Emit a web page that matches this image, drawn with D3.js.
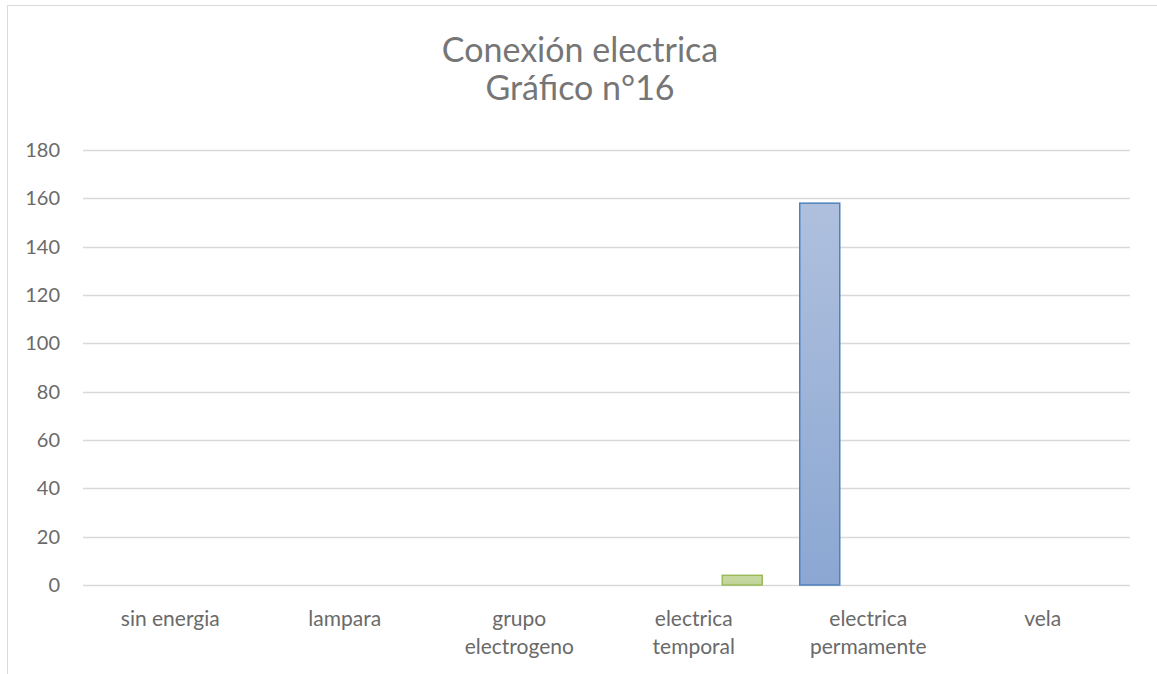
<!DOCTYPE html>
<html>
<head>
<meta charset="utf-8">
<script src="https://cdn.jsdelivr.net/npm/d3@7"></script>
<style>
  body { margin: 0; background: #fff; }
  svg { display: block; font-family: Lato, "Open Sans", sans-serif; }
</style>
</head>
<body>
<svg width="1157" height="674"></svg>
<script>
// data
const titleLines = ["Conexión electrica", "Gráfico n°16"];
const categories = ["sin energia", "lampara", "grupo electrogeno", "electrica temporal", "electrica permamente", "vela"];
const seriesNames = ["serie1", "serie2"];
const serie1 = [0, 0, 0, 0, 158, 0];
const serie2 = [0, 0, 0, 4, 0, 0];
const yTicks = [0, 20, 40, 60, 80, 100, 120, 140, 160, 180];

const svg = d3.select("svg");
const textColor = "#6a6a6a";
const titleColor = "#767676";
const gridColor = "#d9d9d9";

// chart frame (cut off at right and bottom like the screenshot)
svg.append("rect")
    .attr("x", 7.5).attr("y", 5.5)
    .attr("width", 1200).attr("height", 700)
    .attr("fill", "none")
    .attr("stroke", gridColor);

const plot = { left: 83, right: 1130, top: 150, bottom: 585 };

const x0 = d3.scaleBand()
    .domain(categories)
    .range([plot.left, plot.right])
    .padding(0);

const bw = x0.bandwidth();
const x1 = d3.scaleBand()
    .domain(seriesNames)
    .range([bw / 2 - 68.5, bw / 2 + 68.5])
    .paddingInner(1 - 40 / 97);

const y = d3.scaleLinear()
    .domain([0, 180])
    .range([plot.bottom, plot.top]);

// title
svg.append("text")
    .attr("y", 62)
    .attr("text-anchor", "middle")
    .attr("fill", titleColor)
    .style("font-size", "34px")
    .selectAll("tspan")
    .data(titleLines)
    .enter().append("tspan")
    .attr("x", 580)
    .attr("dy", (d, i) => i === 0 ? 0 : 38)
    .text(d => d);

// gridlines
svg.append("g")
    .selectAll("line")
    .data(yTicks)
    .enter().append("line")
    .attr("x1", plot.left).attr("x2", plot.right)
    .attr("y1", d => Math.round(y(d)) + 0.5)
    .attr("y2", d => Math.round(y(d)) + 0.5)
    .attr("stroke", gridColor)
    .attr("stroke-width", 1.3);

// y axis labels
const yAxis = d3.axisLeft(y).tickValues(yTicks).tickSize(0).tickPadding(23);
svg.append("g")
    .attr("transform", `translate(${plot.left},0)`)
    .call(yAxis)
    .call(g => g.select(".domain").remove())
    .selectAll("text")
    .attr("fill", textColor)
    .style("font-size", "20px")
    .style("font-family", "Lato, sans-serif");

// gradients
const defs = svg.append("defs");
function grad(id, top, bottom) {
    const g = defs.append("linearGradient").attr("id", id)
        .attr("x1", 0).attr("y1", 0).attr("x2", 0).attr("y2", 1);
    g.append("stop").attr("offset", "0%").attr("stop-color", top);
    g.append("stop").attr("offset", "100%").attr("stop-color", bottom);
}
grad("gBlue", "#afc0de", "#8ba7d2");
grad("gGreen", "#c9dba6", "#bfd398");

const styles = {
    serie1: { fill: "url(#gBlue)", stroke: "#4f81bd" },
    serie2: { fill: "url(#gGreen)", stroke: "#9bbb59" }
};

const rows = [];
categories.forEach((c, i) => {
    rows.push({ cat: c, series: "serie1", value: serie1[i] });
    rows.push({ cat: c, series: "serie2", value: serie2[i] });
});

svg.append("g")
    .selectAll("rect")
    .data(rows.filter(d => d.value > 0))
    .enter().append("rect")
    .attr("x", d => x0(d.cat) + x1(d.series))
    .attr("y", d => y(d.value))
    .attr("width", x1.bandwidth())
    .attr("height", d => y(0) - y(d.value))
    .attr("fill", d => styles[d.series].fill)
    .attr("stroke", d => styles[d.series].stroke)
    .attr("stroke-width", 1.5);

// category labels, wrapped like Excel
const xAxis = d3.axisBottom(x0).tickSize(0).tickPadding(0);
const xg = svg.append("g")
    .attr("transform", `translate(0,${plot.bottom})`)
    .call(xAxis)
    .call(g => g.select(".domain").remove());

xg.selectAll("text")
    .attr("fill", textColor)
    .style("font-size", "21px")
    .style("font-family", "Lato, sans-serif")
    .attr("y", 41)
    .attr("dy", 0)
    .each(function(d) {
        const t = d3.select(this);
        const maxW = bw * 0.8;
        if (this.getComputedTextLength() > maxW) {
            const words = d.split(" ");
            t.text(null);
            words.forEach((w, i) => {
                t.append("tspan").attr("x", 0).attr("dy", i === 0 ? 0 : 28).text(w);
            });
        }
    });
</script>
</body>
</html>
